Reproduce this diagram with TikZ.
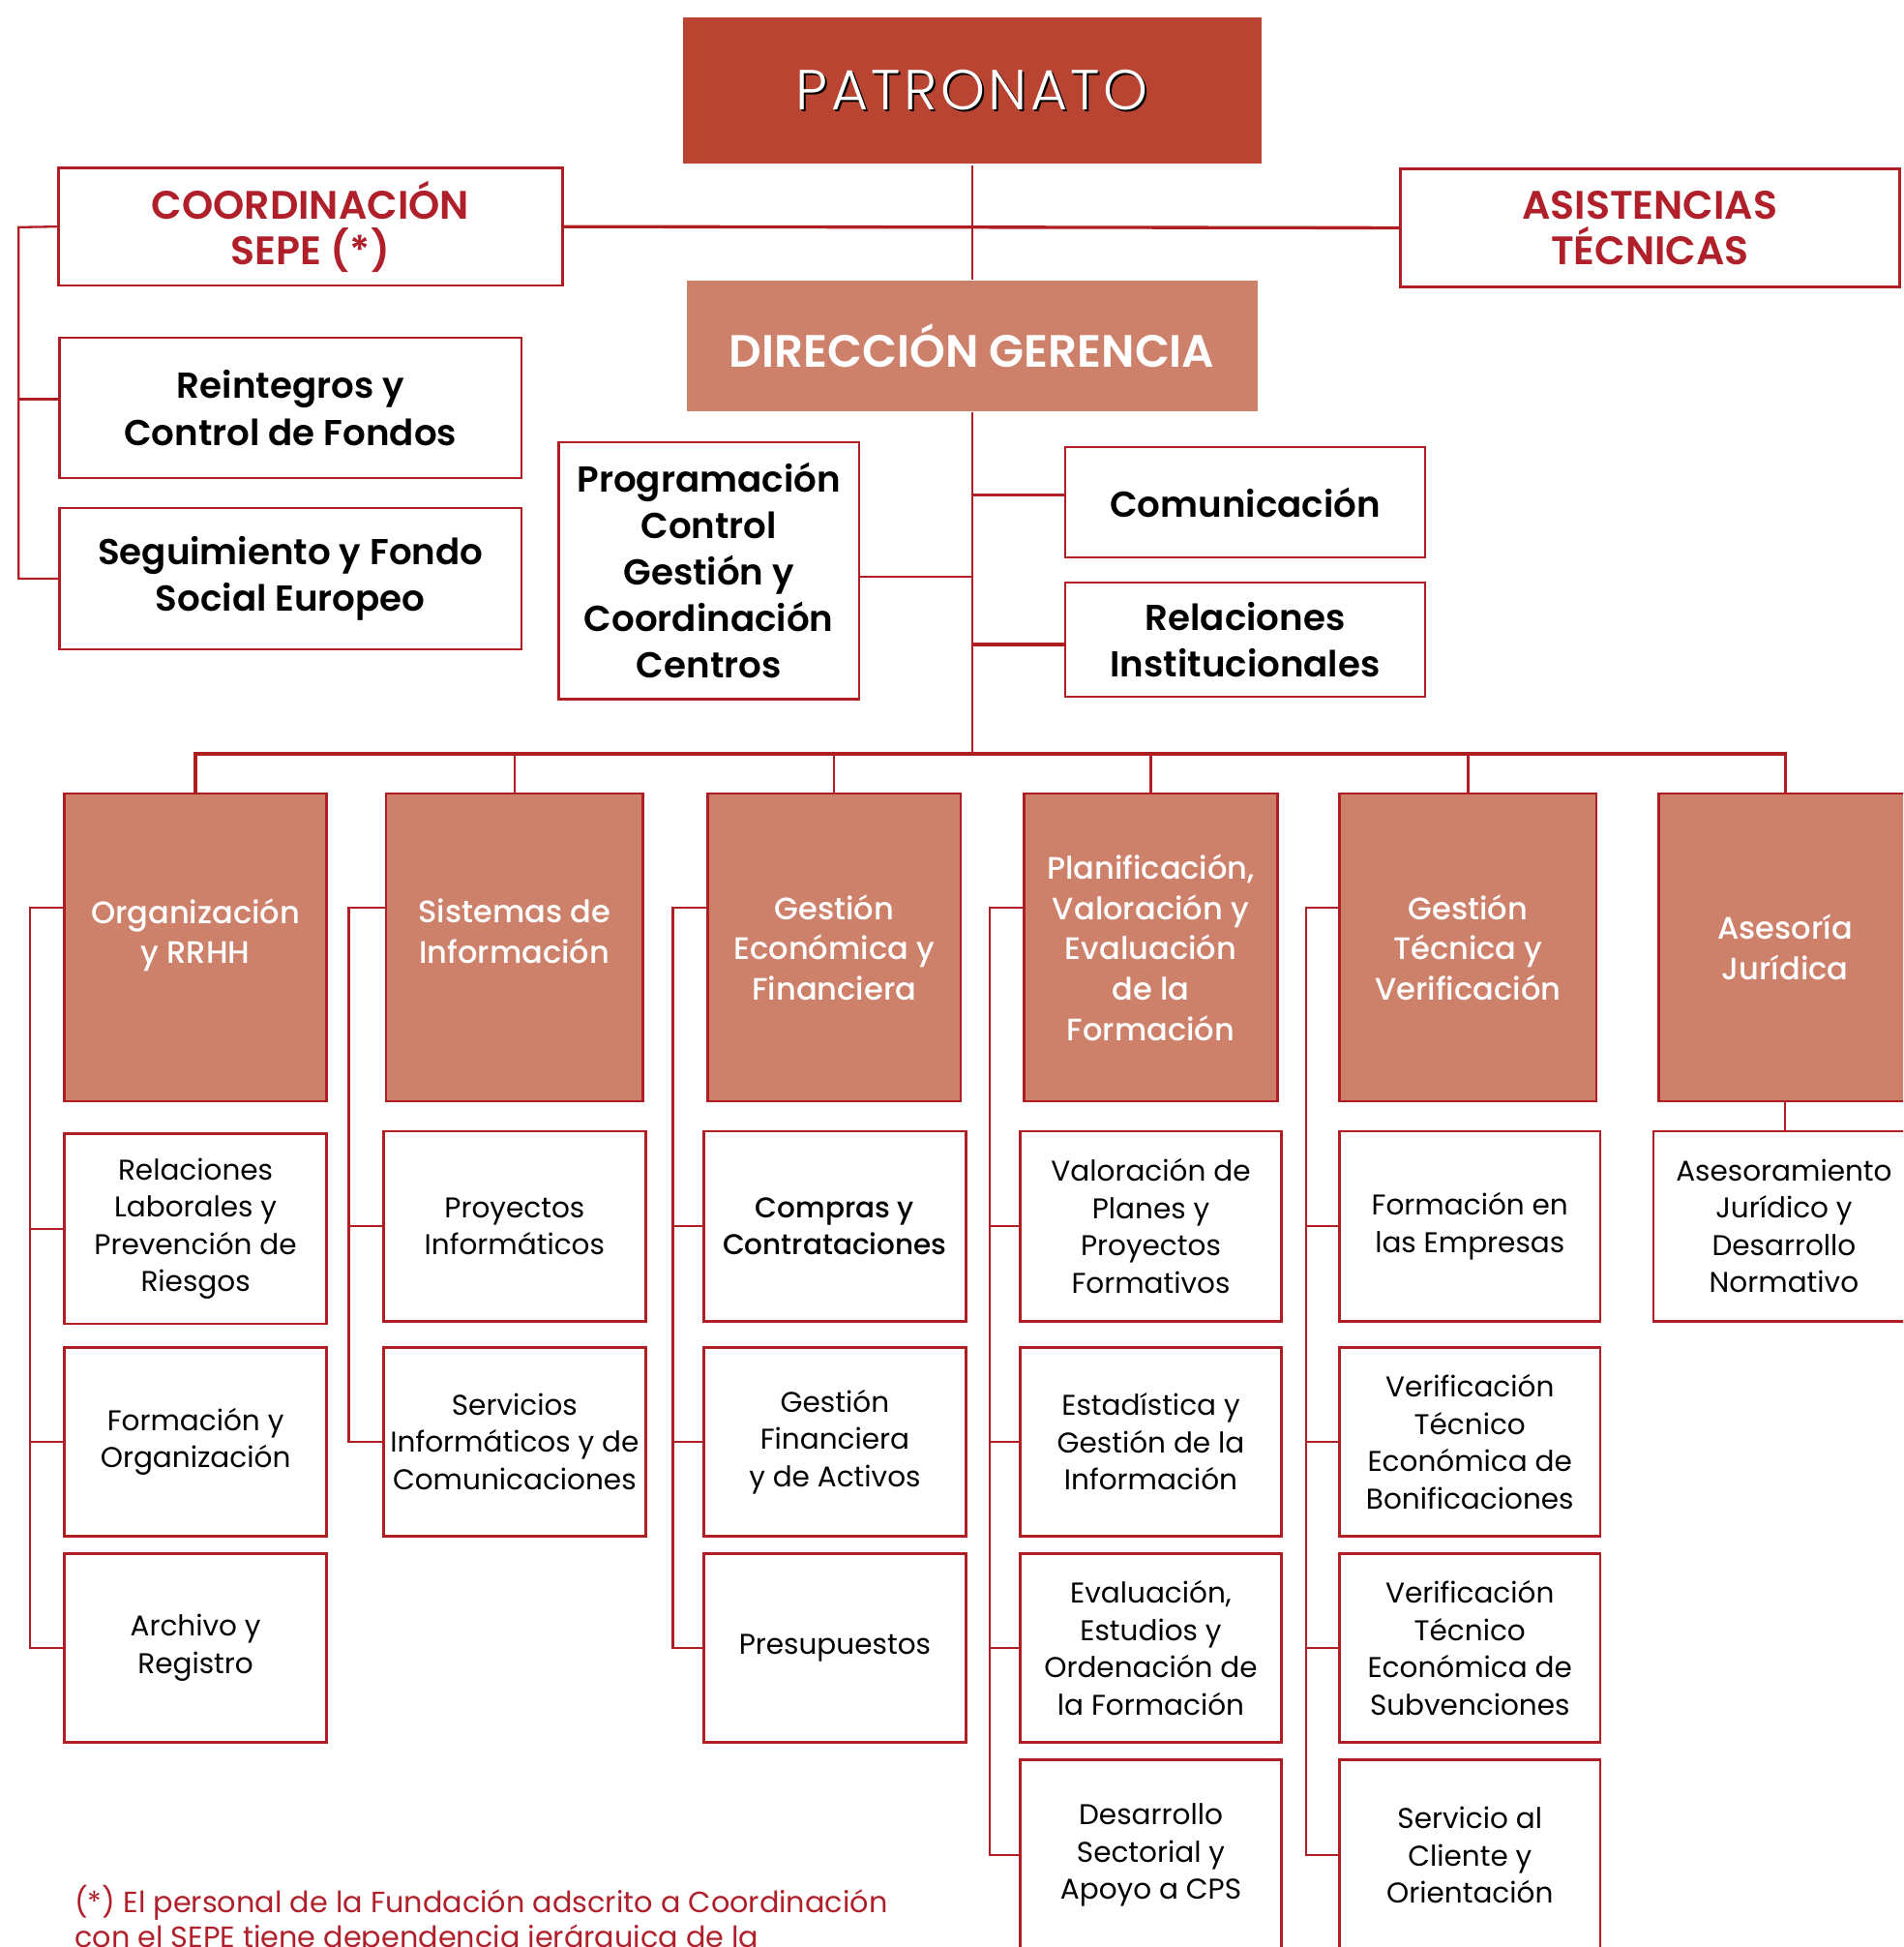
\documentclass[tikz,border=0pt]{standalone}
\usepackage{fontspec}
\usetikzlibrary{calc}
\setmainfont{Poppins}
\newfontfamily\psemi{Poppins SemiBold}
\newfontfamily\pmed{Poppins Medium}
\newfontfamily\plight[LetterSpace=6]{Poppins Light}
\definecolor{lred}{HTML}{AE1E22}
\definecolor{dred}{HTML}{B94431}
\definecolor{salmon}{HTML}{CD806A}
\definecolor{tred}{HTML}{B0202A}
\newcommand\bx[7]{\node[#6, minimum width={(#4-#2)*1pt}, minimum height={(#5-#3)*1pt}] (#1) at ({(#2+#4)/2},{(#3+#5)/2}) {#7};}
\tikzset{
  base/.style={rectangle, align=center, inner sep=0pt, line width=2pt},
  patbox/.style={base, fill=dred, draw=none, text=white, font=\plight\fontsize{45.5}{50}\selectfont},
  dirbox/.style={base, fill=salmon, draw=none, text=white, font=\psemi\fontsize{36.5}{40}\selectfont},
  redbox/.style={base, draw=lred, fill=white, text=tred, font=\psemi\fontsize{32}{37}\selectfont},
  topbox/.style={base, draw=lred, fill=white, text=black, font=\psemi\fontsize{29}{37.5}\selectfont},
  dept/.style={base, draw=lred, fill=salmon, text=white, font=\pmed\fontsize{25}{32.5}\selectfont},
  sub/.style={base, draw=lred, fill=white, text=black, font=\fontsize{23}{30}\selectfont},
  subm/.style={sub, font=\pmed\fontsize{23}{30}\selectfont},
  conn/.style={draw=lred, line width=1.8pt},
  hconn/.style={draw=lred, line width=2.6pt},
}
\begin{document}
\begin{tikzpicture}[x=1pt,y=-1pt]
\useasboundingbox (0,0) rectangle (1533,1568);
\clip (0,0) rectangle (1533,1568);
% top level
\bx{pat}{550}{14}{1016}{132}{patbox}{\rlap{\hspace{1.5pt}\raisebox{-1.5pt}{\textcolor{black}{PATRONATO}}}PATRONATO}
\bx{coord}{47}{135}{453}{230}{redbox}{COORDINACIÓN\\SEPE (*)}
\bx{asis}{1128}{136}{1530}{231}{redbox}{ASISTENCIAS\\TÉCNICAS}
\bx{rein}{48}{272}{420}{385}{topbox}{Reintegros y\\Control de Fondos}
\bx{segu}{48}{409}{420}{523}{topbox}{Seguimiento y Fondo\\Social Europeo}
\bx{dir}{553}{226}{1013}{331}{dirbox}{DIRECCIÓN GERENCIA}
\bx{prog}{450}{356}{692}{563}{topbox}{Programación\\Control\\Gestión y\\Coordinación\\Centros}
\bx{comu}{858}{360}{1148}{449}{topbox}{Comunicación}
\bx{rins}{858}{469}{1148}{561}{topbox}{Relaciones\\Institucionales}
% departments
\bx{d1}{52}{639}{263}{887}{dept}{Organización\\y RRHH\\[-6pt]\mbox{}}
\bx{d2}{311}{639}{518}{887}{dept}{Sistemas de\\Información\\[-6pt]\mbox{}}
\bx{d3}{570}{639}{774}{887}{dept}{Gestión\\Económica y\\Financiera}
\bx{d4}{825}{639}{1029}{887}{dept}{Planificación,\\Valoración y\\Evaluación\\de la\\Formación}
\bx{d5}{1079}{639}{1286}{887}{dept}{Gestión\\Técnica y\\Verificación}
\bx{d6}{1336}{639}{1540}{887}{dept}{Asesoría\\Jurídica}
% column 1
\bx{s11}{52}{913}{263}{1066}{sub}{Relaciones\\Laborales y\\Prevención de\\Riesgos}
\bx{s12}{52}{1085}{263}{1237}{sub}{Formación y\\Organización}
\bx{s13}{52}{1251}{263}{1403}{sub}{Archivo y\\Registro}
% column 2
\bx{s21}{309}{911}{520}{1064}{sub}{Proyectos\\Informáticos}
\bx{s22}{309}{1085}{520}{1237}{sub}{Servicios\\Informáticos y de\\Comunicaciones}
% column 3
\bx{s31}{567}{911}{778}{1064}{subm}{Compras y\\Contrataciones}
\bx{s32}{567}{1085}{778}{1237}{sub}{Gestión\\Financiera\\y de Activos}
\bx{s33}{567}{1251}{778}{1403}{sub}{Presupuestos}
% column 4
\bx{s41}{822}{911}{1032}{1064}{sub}{Valoración de\\Planes y\\Proyectos\\Formativos}
\bx{s42}{822}{1085}{1032}{1237}{sub}{Estadística y\\Gestión de la\\Información}
\bx{s43}{822}{1251}{1032}{1403}{sub}{Evaluación,\\Estudios y\\Ordenación de\\la Formación}
\bx{s44}{822}{1417}{1032}{1571}{sub}{Desarrollo\\Sectorial y\\Apoyo a CPS}
% column 5
\bx{s51}{1079}{911}{1289}{1064}{sub}{Formación en\\las Empresas}
\bx{s52}{1079}{1085}{1289}{1237}{sub}{Verificación\\Técnico\\Económica de\\Bonificaciones}
\bx{s53}{1079}{1251}{1289}{1403}{sub}{Verificación\\Técnico\\Económica de\\Subvenciones}
\bx{s54}{1079}{1417}{1289}{1571}{sub}{Servicio al\\Cliente y\\Orientación}
% column 6
\bx{s61}{1332}{911}{1542}{1064}{sub}{Asesoramiento\\Jurídico y\\Desarrollo\\Normativo}
% footnote
\node[anchor=north west, align=left, inner sep=0pt, text=tred, font=\fontsize{23.6}{28}\selectfont] (note) at (60,1518) {(*) El personal de la Fundación adscrito a Coordinación\\con el SEPE tiene dependencia jerárquica de la};
% connectors top
\draw[conn] (pat.south) -- (dir.north);
\draw[hconn] (coord.east) -- (asis.west);
\coordinate (lb) at (15,183);
\draw[conn] (coord.west) -- (lb) |- (segu.west);
\coordinate (reinL) at ($(rein.west)+(0,-7)$);
\draw[conn] (reinL) -- (reinL -| lb);
\coordinate (bus) at (783,607);
\draw[conn] (dir.south) -- (bus);
\coordinate (progR) at ($(prog.east)+(0,5)$);
\draw[conn] (progR) -- (progR -| bus);
\coordinate (comuL) at ($(comu.west)+(0,-6)$);
\draw[hconn] (comuL) -- (comuL -| bus);
\coordinate (rinsL) at ($(rins.west)+(0,4)$);
\draw[hconn] (rinsL) -- (rinsL -| bus);
\draw[hconn] (d1.north) |- (bus) -| (d6.north);
\foreach \d in {d2,d3,d4,d5}{\draw[conn] (\d.north) -- (\d.north |- bus);}
% column brackets
\coordinate (c1) at (24,731);
\coordinate (c2) at (281,731);
\coordinate (c3) at (542,731);
\coordinate (c4) at (797,731);
\coordinate (c5) at (1052,731);
\draw[conn] (c1 -| d1.west) -- (c1) |- (s13.west);
\foreach \s in {s11,s12}{\draw[conn] (\s.west) -- (\s.west -| c1);}
\draw[conn] (c2 -| d2.west) -- (c2) |- (s22.west);
\draw[conn] (s21.west) -- (s21.west -| c2);
\draw[conn] (c3 -| d3.west) -- (c3) |- (s33.west);
\foreach \s in {s31,s32}{\draw[conn] (\s.west) -- (\s.west -| c3);}
\draw[conn] (c4 -| d4.west) -- (c4) |- (s44.west);
\foreach \s in {s41,s42,s43}{\draw[conn] (\s.west) -- (\s.west -| c4);}
\draw[conn] (c5 -| d5.west) -- (c5) |- (s54.west);
\foreach \s in {s51,s52,s53}{\draw[conn] (\s.west) -- (\s.west -| c5);}
\draw[conn] (d6.south) -- (s61.north -| d6.south);
\end{tikzpicture}
\end{document}
